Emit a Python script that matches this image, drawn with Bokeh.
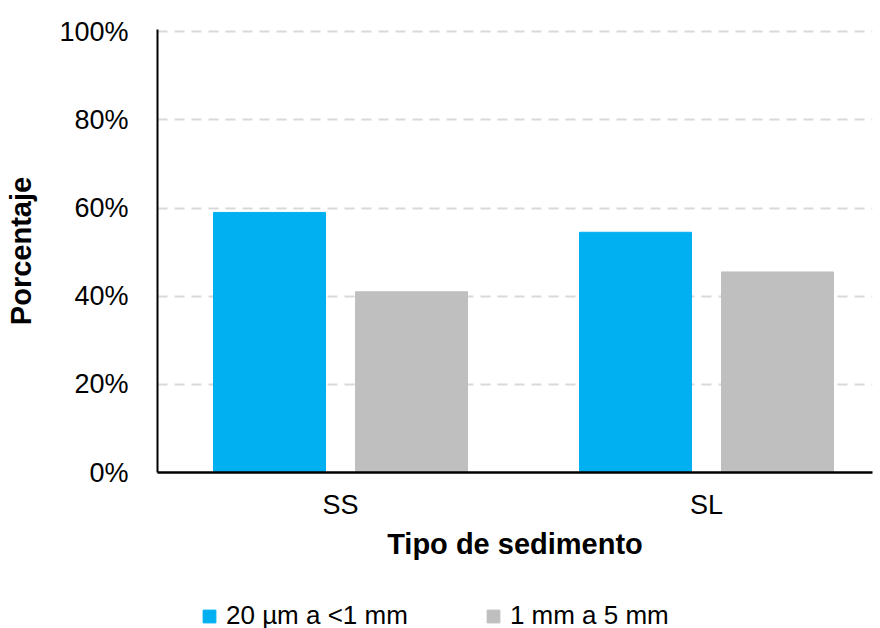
from bokeh.plotting import figure
from bokeh.layouts import column
from bokeh.models import (ColumnDataSource, Range1d, FixedTicker, NumeralTickFormatter,
                          Legend, LegendItem)
from bokeh.transform import dodge
from bokeh.embed import file_html
from bokeh.resources import INLINE

categories = ["SS", "SL"]
series_names = ["20 µm a <1 mm", "1 mm a 5 mm"]
small_vals = [0.59, 0.545]
large_vals = [0.41, 0.455]
y_ticks = [0.0, 0.2, 0.4, 0.6, 0.8, 1.0]

BLUE = "#00B0F0"
GRAY = "#BFBFBF"
FONT = "Liberation Sans"

xpos = [i + 0.5 for i in range(len(categories))]
src = ColumnDataSource(dict(x=xpos, small=small_vals, large=large_vals, cat=categories))

p = figure(width=875, height=568, x_range=Range1d(0, 715 / 366),
           y_range=Range1d(0, 1.005),
           min_border_left=157, min_border_top=29, min_border_right=3, min_border_bottom=96,
           output_backend="svg", toolbar_location=None)

r1 = p.vbar(x=dodge("x", -0.194, range=p.x_range), top="small", width=0.306, source=src,
            fill_color=BLUE, line_color=BLUE)
r2 = p.vbar(x=dodge("x", 0.194, range=p.x_range), top="large", width=0.306, source=src,
            fill_color=GRAY, line_color=GRAY)

p.outline_line_color = None
p.background_fill_color = "white"
p.border_fill_color = "white"

p.xgrid.visible = False
p.ygrid.ticker = FixedTicker(ticks=y_ticks)
p.ygrid.grid_line_color = "#D9D9D9"
p.ygrid.grid_line_width = 2
p.ygrid.grid_line_dash = "10 7"

# y axis
ya = p.yaxis[0]
ya.ticker = FixedTicker(ticks=y_ticks)
ya.formatter = NumeralTickFormatter(format="0%")
ya.axis_label = "Porcentaje"
ya.axis_label_text_font = FONT
ya.axis_label_text_font_style = "bold"
ya.axis_label_text_font_size = "29px"
ya.axis_label_text_color = "black"
ya.axis_label_standoff = 19
ya.major_label_text_font = FONT
ya.major_label_text_font_size = "27px"
ya.major_label_text_color = "black"
ya.major_label_standoff = 29
ya.major_tick_out = 0
ya.major_tick_in = 0
ya.minor_tick_out = 0
ya.minor_tick_in = 0
ya.major_tick_line_color = None
ya.minor_tick_line_color = None
ya.axis_line_color = "black"
ya.axis_line_width = 2

# x axis
xa = p.xaxis[0]
xa.ticker = FixedTicker(ticks=xpos)
xa.major_label_overrides = {x: c for x, c in zip(xpos, categories)}
xa.axis_label = "Tipo de sedimento"
xa.axis_label_text_font = FONT
xa.axis_label_text_font_style = "bold"
xa.axis_label_text_font_size = "29px"
xa.axis_label_text_color = "black"
xa.axis_label_standoff = 5
xa.major_label_text_font = FONT
xa.major_label_text_font_size = "27px"
xa.major_label_text_color = "black"
xa.major_label_standoff = 17
xa.major_tick_out = 0
xa.major_tick_in = 0
xa.minor_tick_out = 0
xa.minor_tick_in = 0
xa.major_tick_line_color = None
xa.minor_tick_line_color = None
xa.axis_line_color = "black"
xa.axis_line_width = 2.5

# legend strip below the chart (its bars use the same data but fall outside its view)
p2 = figure(width=875, height=72, x_range=Range1d(0, 715 / 366), y_range=Range1d(5, 6),
            x_axis_type=None, y_axis_type=None,
            min_border_left=0, min_border_right=0, min_border_top=0, min_border_bottom=0,
            output_backend="svg", toolbar_location=None)
p2.grid.visible = False
p2.outline_line_color = None
p2.background_fill_color = "white"
p2.border_fill_color = "white"
k1 = p2.vbar(x="x", top="small", width=0.306, source=src, fill_color=BLUE, line_color=BLUE)
k2 = p2.vbar(x="x", top="large", width=0.306, source=src, fill_color=GRAY, line_color=GRAY)

legend = Legend(items=[LegendItem(label=series_names[0], renderers=[k1]),
                       LegendItem(label=series_names[1], renderers=[k2])],
                orientation="horizontal", location=(44, 9),
                border_line_color=None, background_fill_alpha=0,
                padding=0, margin=0, glyph_width=16, glyph_height=16,
                label_standoff=9, spacing=77, label_height=16,
                label_text_font=FONT, label_text_font_size="26px",
                label_text_color="black")
p2.add_layout(legend)

layout = column(p, p2, spacing=0)
open("out.html", "w").write(file_html(layout, INLINE))
